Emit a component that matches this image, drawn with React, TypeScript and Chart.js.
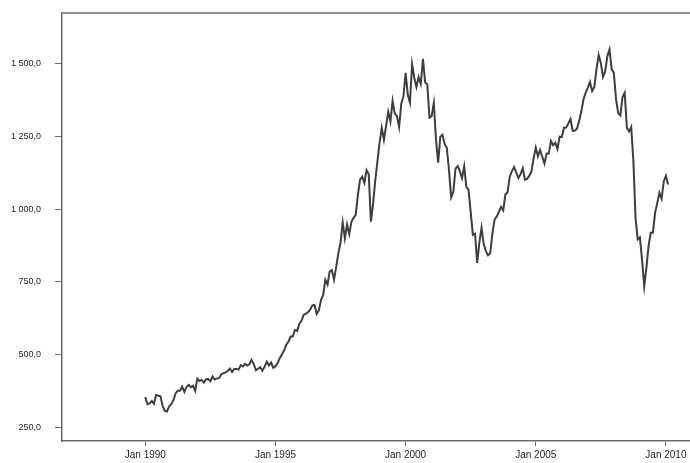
import React, { useEffect, useRef } from "react";
import { Chart, registerables } from "chart.js";

Chart.register(...registerables);

// Monthly index values, first entry of each array = January of that year
const startYear = 1990;
const values1990 = [353.4, 329.08, 331.89, 339.94, 330.8, 361.23, 358.02, 356.15, 322.56, 306.05, 304.0, 322.22];
const values1991 = [330.22, 343.93, 367.07, 375.22, 375.35, 389.83, 371.16, 387.81, 395.43, 387.86, 392.46, 375.22];
const values1992 = [417.09, 408.79, 412.7, 403.69, 414.95, 415.35, 408.14, 424.21, 414.03, 417.8, 418.68, 431.35];
const values1993 = [435.71, 438.78, 443.38, 451.67, 440.19, 450.19, 450.53, 448.13, 463.56, 458.93, 467.83, 461.79];
const values1994 = [466.45, 481.61, 467.14, 445.77, 450.91, 456.5, 444.27, 458.26, 475.49, 462.69, 472.35, 453.69];
const values1995 = [459.27, 470.42, 487.39, 500.71, 514.71, 533.4, 544.75, 562.06, 561.88, 584.41, 581.5, 605.37];
const values1996 = [615.93, 636.02, 640.43, 645.5, 654.17, 669.12, 670.63, 639.95, 651.99, 687.31, 705.27, 757.02];
const values1997 = [740.74, 786.16, 790.82, 757.12, 801.34, 848.28, 885.14, 954.29, 899.47, 947.28, 914.62, 955.4];
const values1998 = [970.43, 980.28, 1049.34, 1101.75, 1111.75, 1090.82, 1133.84, 1120.67, 957.28, 1017.01, 1098.67, 1163.63];
const values1999 = [1229.23, 1279.64, 1238.33, 1286.37, 1335.18, 1301.84, 1372.71, 1328.72, 1320.41, 1282.71, 1362.93, 1388.91];
const values2000 = [1469.25, 1394.46, 1366.42, 1498.58, 1452.43, 1420.6, 1454.6, 1430.83, 1517.68, 1436.51, 1429.4, 1314.95];
const values2001 = [1320.28, 1366.01, 1239.94, 1160.33, 1249.46, 1255.82, 1224.38, 1211.23, 1133.58, 1040.94, 1059.78, 1139.45];
const values2002 = [1148.08, 1130.2, 1106.73, 1147.39, 1076.92, 1067.14, 989.82, 911.62, 916.07, 815.28, 885.76, 936.31];
const values2003 = [879.82, 855.7, 841.15, 848.18, 916.92, 963.59, 974.5, 990.31, 1008.01, 995.97, 1050.71, 1058.2];
const values2004 = [1111.92, 1131.13, 1144.94, 1126.21, 1107.3, 1120.68, 1140.84, 1101.72, 1104.24, 1114.58, 1130.2, 1173.82];
const values2005 = [1211.92, 1181.27, 1203.6, 1180.59, 1156.85, 1191.5, 1191.33, 1234.18, 1220.33, 1228.81, 1207.01, 1249.48];
const values2006 = [1248.29, 1280.08, 1280.66, 1294.83, 1310.61, 1270.09, 1270.2, 1276.66, 1303.82, 1335.85, 1377.94, 1400.63];
const values2007 = [1418.3, 1438.24, 1406.82, 1420.86, 1482.37, 1530.62, 1503.35, 1455.27, 1473.99, 1526.75, 1549.38, 1481.14];
const values2008 = [1468.36, 1378.55, 1330.63, 1322.7, 1385.59, 1400.38, 1280.0, 1267.38, 1282.83, 1166.36, 968.75, 896.24];
const values2009 = [903.25, 825.88, 735.09, 797.87, 872.81, 919.14, 919.32, 987.48, 1020.62, 1057.08, 1036.19, 1095.63];
const values2010 = [1115.1, 1085.0];

const yearlyValues = [
  values1990, values1991, values1992, values1993, values1994, values1995, values1996,
  values1997, values1998, values1999, values2000, values2001, values2002, values2003,
  values2004, values2005, values2006, values2007, values2008, values2009, values2010,
];

const xTickYears = [1990, 1995, 2000, 2005, 2010];
const xTickLabels = ["Jan 1990", "Jan 1995", "Jan 2000", "Jan 2005", "Jan 2010"];
const yTickValues = [250, 500, 750, 1000, 1250, 1500];

function formatY(v: number): string {
  const whole = Math.round(v);
  if (whole >= 1000) {
    const th = Math.floor(whole / 1000);
    const rest = String(whole % 1000).padStart(3, "0");
    return `${th} ${rest},0`;
  }
  return `${whole},0`;
}

const topBorder = {
  id: "topBorder",
  afterDraw(chart: any) {
    const { ctx, chartArea } = chart;
    ctx.save();
    ctx.strokeStyle = "#6a6a6a";
    ctx.lineWidth = 1.5;
    ctx.beginPath();
    ctx.moveTo(chartArea.left, chartArea.top);
    ctx.lineTo(chartArea.right, chartArea.top);
    ctx.stroke();
    ctx.restore();
  },
};

export default function App() {
  const ref = useRef<HTMLCanvasElement>(null);

  useEffect(() => {
    const points: { x: number; y: number }[] = [];
    yearlyValues.forEach((arr, yi) => {
      arr.forEach((v, m) => points.push({ x: yi * 12 + m, y: v }));
    });
    const xTickPositions = xTickYears.map((y) => (y - startYear) * 12);

    const chart = new Chart(ref.current!, {
      type: "line",
      data: {
        datasets: [
          {
            data: points,
            borderColor: "#3e3e3e",
            borderWidth: 2,
            pointRadius: 0,
            tension: 0,
            fill: false,
          },
        ],
      },
      plugins: [topBorder],
      options: {
        animation: false,
        responsive: false,
        devicePixelRatio: 1,
        layout: { padding: { top: 13, right: 0, left: 0, bottom: 0 } },
        plugins: { legend: { display: false }, tooltip: { enabled: false } },
        scales: {
          x: {
            type: "linear",
            min: -38.4,
            max: 251.1,
            afterBuildTicks: (scale: any) => {
              scale.ticks = xTickPositions.map((v) => ({ value: v }));
            },
            afterFit: (scale: any) => {
              scale.height = 22;
              scale.paddingLeft = 0;
              scale.paddingRight = 0;
            },
            ticks: {
              autoSkip: false,
              maxRotation: 0,
              padding: 3,
              color: "#1e1e1e",
              font: { family: "Liberation Sans, Arial, sans-serif", size: 10 },
              callback: (value: any) => {
                const i = xTickPositions.indexOf(Number(value));
                return i >= 0 ? xTickLabels[i] : "";
              },
            },
            grid: { drawOnChartArea: false, tickLength: 5, color: "#6a6a6a", lineWidth: 1 },
            border: { display: true, color: "#6a6a6a", width: 1.5 },
          },
          y: {
            type: "linear",
            min: 202.5,
            max: 1675,
            afterBuildTicks: (scale: any) => {
              scale.ticks = yTickValues.map((v) => ({ value: v }));
            },
            afterFit: (scale: any) => {
              scale.width = 62;
              scale.paddingTop = 0;
              scale.paddingBottom = 0;
            },
            ticks: {
              autoSkip: false,
              padding: 14,
              color: "#1e1e1e",
              font: { family: "Liberation Sans, Arial, sans-serif", size: 9 },
              callback: (value: any) => formatY(Number(value)),
            },
            grid: { drawOnChartArea: false, tickLength: 7, color: "#6a6a6a", lineWidth: 1 },
            border: { display: true, color: "#6a6a6a", width: 1.5 },
          },
        },
      },
    });
    return () => chart.destroy();
  }, []);

  return (
    <div style={{ position: "absolute", left: 0, top: 0, width: 690, height: 463, background: "#fff" }}>
      <canvas ref={ref} width={690} height={463} style={{ width: 690, height: 463, display: "block" }} />
    </div>
  );
}
